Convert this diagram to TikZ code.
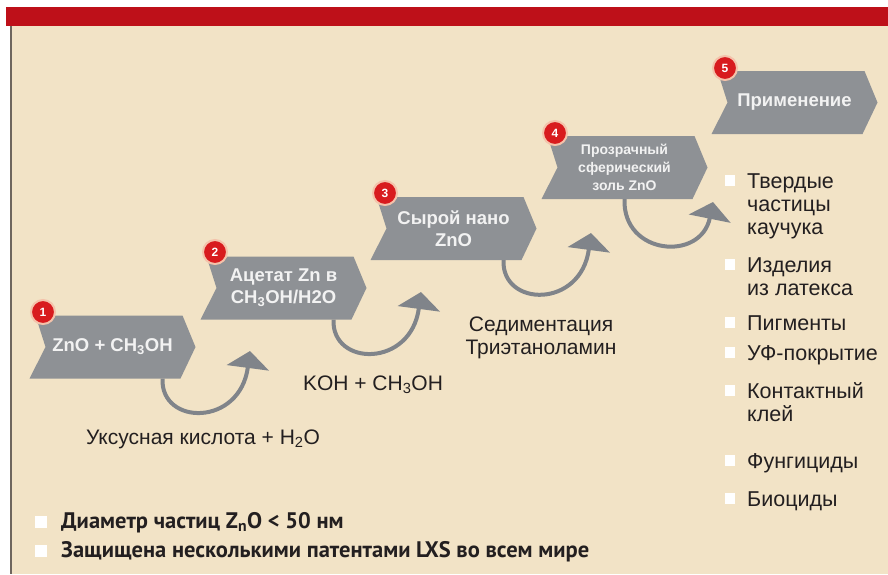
\documentclass[tikz,border=0pt]{standalone}
\usepackage{fontspec}
\setmainfont{Liberation Sans}
\newfontfamily\ptsans{PT Sans}
\usetikzlibrary{arrows.meta}
\definecolor{redbar}{HTML}{BE1019}
\definecolor{beige}{HTML}{F2E3C6}
\definecolor{bordergray}{HTML}{6E665E}
\definecolor{boxgray}{HTML}{8E9195}
\definecolor{arrowgray}{HTML}{80848A}
\definecolor{badgered}{HTML}{D81B1E}
\definecolor{badgering}{HTML}{F4C2AA}
\definecolor{boxtext}{HTML}{F2F2F2}
\definecolor{ink}{HTML}{231F20}
\begin{document}
\begin{tikzpicture}[x=1pt,y=-1pt,
  chevbox/.style={minimum width=166pt, minimum height=63pt, inner sep=0pt, fill=beige,
    text=boxtext, font=\bfseries\fontsize{18.5}{22}\selectfont, align=center,
    path picture={\fill[boxgray]
      ([xshift=6pt]path picture bounding box.north west) --
      ([xshift=-13pt]path picture bounding box.north east) --
      (path picture bounding box.east) --
      ([xshift=-15pt]path picture bounding box.south east) --
      (path picture bounding box.south west) --
      ([xshift=16pt]path picture bounding box.west) -- cycle;}},
  badge/.style={circle, fill=badgered, draw=badgering, line width=2pt, minimum size=24pt,
    inner sep=0pt, text=white, font=\bfseries\fontsize{12}{12}\selectfont},
  flowarrow/.style={draw=arrowgray, line width=4pt, -{Triangle[width=42pt,length=17pt]}},
  lbl/.style={text=ink, font=\fontsize{21}{23}\selectfont, inner sep=0pt},
  item/.style={text=ink, font=\fontsize{21.5}{23}\selectfont, inner sep=0pt, anchor=north west, align=left},
  sq/.style={fill=white, minimum size=10.5pt, inner sep=0pt},
  bsq/.style={fill=white, minimum size=12pt, inner sep=0pt},
  note/.style={text=ink, font=\ptsans\bfseries\fontsize{22.5}{26}\selectfont, inner sep=0pt, anchor=base west}
]
\useasboundingbox (0,0) rectangle (888,574);
\fill[white] (0,0) rectangle (888,574);
\fill[beige] (10,26) rectangle (888,574);
\draw[bordergray, line width=1.2pt] (11,26) -- (11,574);
\fill[redbar] (6,7) rectangle (888,26);

% step boxes
\node[chevbox] (s1) at (112.5,347) {ZnO + CH\textsubscript{3}OH};
\node[chevbox] (s2) at (283.5,288) {Ацетат Zn в\\CH\textsubscript{3}OH/H2O};
\node[chevbox] (s3) at (453.5,228.5) {Сырой нано\\ZnO};
\node[chevbox, font=\bfseries\fontsize{14}{18}\selectfont] (s4) at (624.5,167.5) {Прозрачный\\сферический\\золь ZnO};
\node[chevbox] (s5) at (794.5,102.5) {Применение};

% badges
\node[badge] (n1) at (43,312) {1};
\node[badge] (n2) at (215,252) {2};
\node[badge] (n3) at (385,193) {3};
\node[badge] (n4) at (555,133) {4};
\node[badge] (n5) at (725,68) {5};

% arrows
\coordinate (e1) at (250,351);
\coordinate (e2) at (421,292);
\coordinate (e3) at (591,233);
\coordinate (e4) at (713,202);
\draw[flowarrow] ([xshift=50pt]s1.south) .. controls +(-2,47) and +(-10,76) .. (e1);
\draw[flowarrow] ([xshift=50pt]s2.south) .. controls +(-2,47) and +(-10,76) .. (e2);
\draw[flowarrow] ([xshift=50pt]s3.south) .. controls +(-2,47) and +(-10,76) .. (e3);
\draw[flowarrow] (s4.south) .. controls +(-2,56) and +(-12,60) .. (e4);

% reagent labels
\node[lbl] (t1) at (203,439) {Уксусная кислота + H\textsubscript{2}O};
\node[lbl] (t2) at (373,385) {KOH + CH\textsubscript{3}OH};
\node[lbl, align=center] (t3) at (541,338) {Седиментация\\Триэтаноламин};

% applications list
\node[sq] (q1) at (730,180.5) {};
\node[item] (l1) at (747,172) {\strut Твердые\\\strut частицы\\\strut каучука};
\node[sq] (q2) at (730,264.5) {};
\node[item] (l2) at (747,256) {\strut Изделия\\\strut из латекса};
\node[sq] (q3) at (730,322.5) {};
\node[item] (l3) at (747,314) {\strut Пигменты};
\node[sq] (q4) at (730,352.5) {};
\node[item] (l4) at (747,344) {\strut УФ-покрытие};
\node[sq] (q5) at (730,390.5) {};
\node[item] (l5) at (747,382) {\strut Контактный\\\strut клей};
\node[sq] (q6) at (730,460.5) {};
\node[item] (l6) at (747,452) {\strut Фунгициды};
\node[sq] (q7) at (730,498.5) {};
\node[item] (l7) at (747,490) {\strut Биоциды};

% bottom notes
\node[bsq] (p1) at (41,522) {};
\node[note] (m1) at (61,528) {Диаметр частиц Z\textsubscript{n}O < 50 нм};
\node[bsq] (p2) at (41,551) {};
\node[note] (m2) at (61,557) {Защищена несколькими патентами LXS во всем мире};
\end{tikzpicture}
\end{document}
